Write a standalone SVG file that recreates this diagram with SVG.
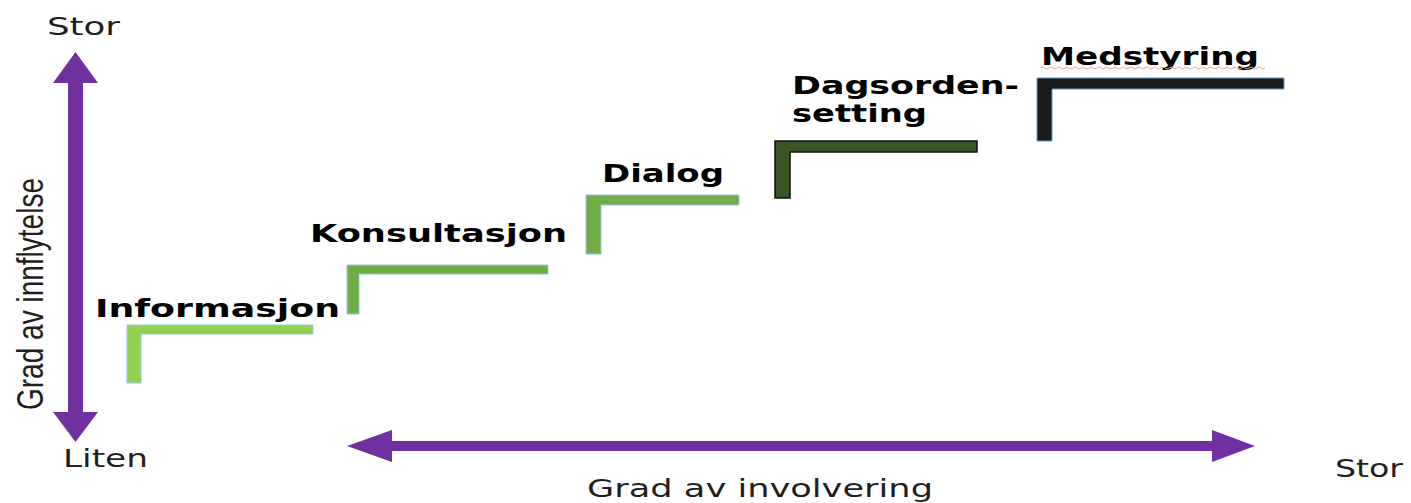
<svg xmlns="http://www.w3.org/2000/svg" width="1411" height="503" viewBox="0 0 1411 503">
  <style>
    .axis { fill: #7030A0; }
    .lbl { font-family: "DejaVu Sans", Verdana, sans-serif; font-size: 24px; fill: #1f1f1f; }
    .step { font-family: "DejaVu Sans", Verdana, sans-serif; font-weight: bold; font-size: 24px; fill: #000; }
    .light { fill: #92D050; stroke: #9DC3E6; stroke-width: 1; }
    .mid { fill: #70AD47; stroke: #9DC3E6; stroke-width: 1; }
    .dark { fill: #375623; stroke: #111; stroke-width: 1.5; }
    .black { fill: #1A1A1A; stroke: #5B9BD5; stroke-width: 1; }
  </style>
  <rect width="1411" height="503" fill="#fff"/>

  <g id="connectors">
    <polygon class="axis" points="75.5,52 98,83 83,83 83,412 98,412 75.5,442 53,412 68,412 68,83 53,83"/>
    <polygon class="axis" points="347,446 392,430 392,441 1212,441 1212,430 1255,446 1212,462 1212,451 392,451 392,462"/>
  </g>

  <g id="axis-labels">
    <text class="lbl" x="47" y="35" textLength="73" lengthAdjust="spacingAndGlyphs" font-size="23">Stor</text>
    <text class="lbl" x="63" y="467" textLength="85" lengthAdjust="spacingAndGlyphs">Liten</text>
    <text class="lbl" x="1335" y="477" textLength="68" lengthAdjust="spacingAndGlyphs">Stor</text>
    <text class="lbl" x="587" y="497" font-size="21" textLength="346" lengthAdjust="spacingAndGlyphs">Grad av involvering</text>
    <text transform="translate(43,410) scale(1.5,1) rotate(-90)" x="0" y="0" font-family="'Liberation Sans', Arial, sans-serif" font-size="25" fill="#1f1f1f" textLength="232" lengthAdjust="spacingAndGlyphs">Grad av innflytelse</text>
  </g>

  <g id="informasjon">
    <path class="light" d="M127,383 V325 H313 V334 H141 V383 Z"/>
    <text class="step" x="95" y="317" textLength="245" lengthAdjust="spacingAndGlyphs">Informasjon</text>
  </g>

  <g id="konsultasjon">
    <path class="mid" d="M347,314 V265 H548 V274 H359 V314 Z"/>
    <text class="step" x="310" y="242" textLength="257" lengthAdjust="spacingAndGlyphs">Konsultasjon</text>
  </g>

  <g id="dialog">
    <path class="mid" d="M586,254 V195 H739 V205 H601 V254 Z"/>
    <text class="step" x="602" y="182" textLength="122" lengthAdjust="spacingAndGlyphs">Dialog</text>
  </g>

  <g id="dagsordensetting">
    <path class="dark" d="M775,198 V141 H977 V152 H790 V198 Z"/>
    <text class="step" x="792" y="94" textLength="227" lengthAdjust="spacingAndGlyphs">Dagsorden-</text>
    <text class="step" x="792" y="122" textLength="135" lengthAdjust="spacingAndGlyphs">setting</text>
  </g>

  <g id="medstyring">
    <path class="black" d="M1037,141 V78 H1284 V89 H1052 V141 Z"/>
    <text class="step" x="1041" y="65" textLength="218" lengthAdjust="spacingAndGlyphs">Medstyring</text>
    <path d="M1041,68 q2,-2 4,0 t4,0 t4,0 t4,0 t4,0 t4,0 t4,0 t4,0 t4,0 t4,0 t4,0 t4,0 t4,0 t4,0 t4,0 t4,0 t4,0 t4,0 t4,0 t4,0 t4,0 t4,0 t4,0 t4,0 t4,0 t4,0 t4,0 t4,0 t4,0 t4,0 t4,0 t4,0 t4,0 t4,0 t4,0 t4,0 t4,0 t4,0 t4,0 t4,0 t4,0 t4,0 t4,0 t4,0 t4,0 t4,0 t4,0 t4,0 t4,0 t4,0 t4,0 t4,0 t4,0 t4,0 t4,0 t4,0" fill="none" stroke="#F4A0A0" stroke-width="1"/>
  </g>
</svg>
